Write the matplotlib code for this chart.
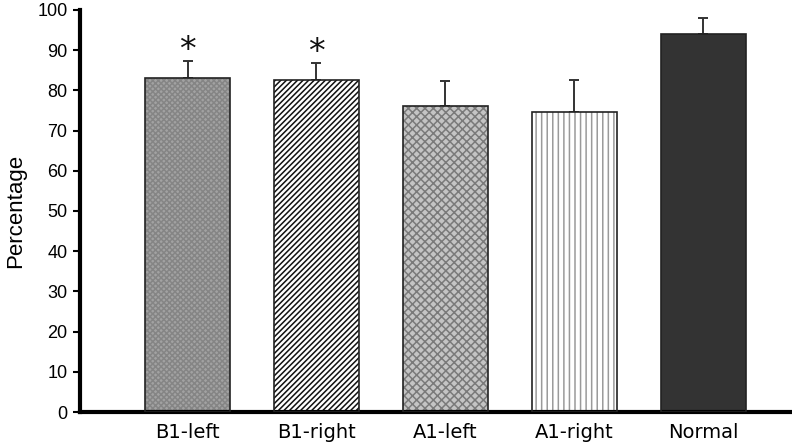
import matplotlib.pyplot as plt
import numpy as np

categories = ['B1-left', 'B1-right', 'A1-left', 'A1-right', 'Normal']
means = [83.0, 82.5, 76.0, 74.7, 94.0]
errors = [4.2, 4.3, 6.3, 7.8, 4.0]
significant = [True, True, False, False, False]

# fill, hatch, hatch colour per bar
faces = ['#a2a2a2', 'white', '#c4c4c4', 'white', '#333333']
hatches = ['xxxxxx', '//////', 'xxxx', '|||', '']
hatch_cols = ['#858585', '#111111', '#7a7a7a', '#9a9a9a', '#333333']

plt.rcParams['font.family'] = ['Liberation Sans', 'DejaVu Sans']
plt.rcParams['hatch.linewidth'] = 1.1

fig = plt.figure(figsize=(7.92, 4.47), dpi=100)
ax = fig.add_axes([0.101, 0.078, 0.899, 0.9])

x = np.arange(len(categories))
w = 0.66
# hatched fill (edge colour drives the hatch colour)
ax.bar(x, means, w, color=faces, edgecolor=hatch_cols, hatch=hatches,
       linewidth=0, zorder=2)
# outlines
ax.bar(x, means, w, fill=False, edgecolor='#222222', linewidth=1.2, zorder=3)
ax.errorbar(x, means, yerr=[np.zeros(len(x)), errors], fmt='none',
            ecolor='#333333', elinewidth=1.4, capsize=3.5, capthick=1.4,
            zorder=1)

for xi, m, e, s in zip(x, means, errors, significant):
    if s:
        ax.text(xi, m + e + 6.8, '*', ha='center', va='top',
                fontsize=24, color='#111111', family='DejaVu Sans')

ax.set_ylim(0, 100)
ax.set_xlim(-0.835, 4.69)
ax.set_yticks(range(0, 101, 10))
ax.set_xticks(x)
ax.set_xticklabels(categories, family='DejaVu Sans', fontsize=14)
ax.tick_params(axis='x', length=0, pad=8)
ax.tick_params(axis='y', length=5, width=1.5, labelsize=13, pad=4)
ax.set_ylabel('Percentage', fontsize=16, labelpad=8)

for side in ['top', 'right']:
    ax.spines[side].set_visible(False)
for side in ['left', 'bottom']:
    ax.spines[side].set_linewidth(3)

plt.savefig('out.png', dpi=100)
